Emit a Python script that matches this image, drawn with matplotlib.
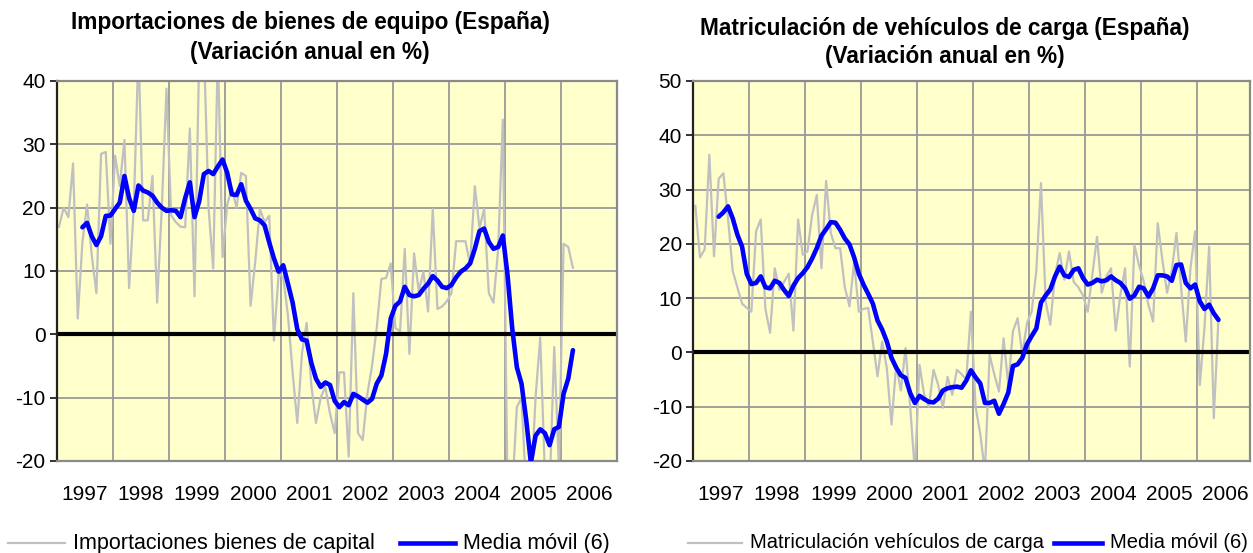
import numpy as np
import matplotlib
matplotlib.use("Agg")
import matplotlib.pyplot as plt
from matplotlib.lines import Line2D

plt.rcParams['font.family'] = ['Liberation Sans', 'DejaVu Sans']
plt.rcParams['axes.unicode_minus'] = False

# ---------------- data ----------------
years = ['1997', '1998', '1999', '2000', '2001', '2002', '2003', '2004', '2005', '2006']

# Left: Importaciones bienes de capital (monthly, Jan-1997 .. Mar-2006)
imp_grey = [17, 20, 18.5, 27, 2.5, 14.5, 20.5, 12.5, 6.5, 28.5, 28.8, 14.3,
            28.2, 23.4, 30.7, 7.3, 20, 45, 18, 18, 25, 5, 20, 38.8,
            18.8, 17.7, 17, 16.9, 32.5, 6, 44, 46, 20, 10.4, 45, 12.2,
            20.5, 23, 20, 25.5, 25, 4.5, 11.5, 19.8, 17.7, 18.7, -1, 9.5,
            9, 3, -6, -14, -3, 1.8, -8, -14, -10, -8.3, -12.5, -15.6,
            -6, -6, -19.3, 6.5, -15.6, -16.7, -9.4, -5, 1, 8.75, 8.9, 11.2,
            1, 0.5, 13.5, -3.1, 12.8, 6.8, 9.9, 3.6, 19.8, 4, 4.4, 5.2,
            6.5, 14.7, 14.7, 14.7, 11, 23.4, 16.8, 19.8, 6.5, 5, 13.5, 33.9,
            -25, -25, -11.5, -10, -25, -25, -10, -0.5, -22, -25, -2, -21,
            14.3, 13.8, 10.5]
# Media movil (6) starts at the 6th month
imp_ma = [16.9, 17.6, 15.5, 14.1, 15.5, 18.7, 18.75,
          19.8, 20.8, 25, 21.5, 19.5, 23.5, 22.7, 22.4, 21.9, 20.8, 20, 19.5,
          19.6, 19.5, 18.5, 21.5, 24, 18.5, 21, 25.3, 25.8, 25.3, 26.5, 27.6,
          25.5, 22.1, 22, 23.7, 21.1, 19.8, 18.3, 18, 17.2, 14.5, 12, 9.9,
          10.9, 8, 5, 0.8, -0.8, -1, -4.5, -7, -8.3, -7.6, -8, -10.5,
          -11.5, -10.7, -11.2, -9.4, -9.8, -10.3, -10.8, -10.2, -7.8, -6.5, -3.1, 2.5,
          4.5, 5.2, 7.5, 6.2, 6, 6.2, 7.2, 8, 9.2, 8.5, 7.5, 7.3,
          7.8, 9, 9.9, 10.4, 11.2, 13.5, 16.3, 16.7, 14.6, 13.5, 13.8, 15.6,
          9.4, 1, -5.2, -7.8, -13.5, -20.3, -16, -15, -15.6, -17.5, -15, -14.6,
          -9.4, -7, -2.5]

# Right: Matriculacion vehiculos de carga (monthly, Jan-1997 .. May-2006)
mat_grey = [27, 17.5, 19, 36.4, 17.7, 32, 33, 24.7, 15, 12, 9, 8.2,
            7.5, 22.3, 24.5, 8, 3.6, 15.5, 11.5, 13, 14.5, 4, 24.5, 18,
            18.6, 25.3, 29, 15.5, 31.6, 22, 19.2, 19.2, 12, 8.5, 16.7, 7.5,
            8, 8.2, 2, -4.4, 2, -2.9, -13.3, -2.3, -7, 0.8, -10, -22,
            -2.3, -7.8, -10, -3.2, -6, -10.2, -4.5, -7.8, -3.2, -4, -5, 7.5,
            -10, -15, -22, -0.4, -4, -7.2, 2.6, -6, 3.9, 6.3, -0.4, 5.4,
            7.5, 15, 31.2, 9.4, 5.1, 14.3, 18.3, 13.4, 18.6, 13, 12, 10.5,
            7.5, 14.3, 21.3, 11, 14, 15.5, 4, 10.6, 15.5, -2.6, 19.8, 16,
            13.1, 8.8, 5.7, 23.8, 17, 11, 15, 22, 12, 2, 15.5, 22.3,
            -6, 4.5, 19.5, -12.1, 6.3]
mat_ma = [25, 25.8, 26.9, 24.7, 21.7, 19.5, 14.5,
          12.6, 12.8, 14, 12, 11.8, 13.2, 12.8, 11.5, 10.4, 12.3, 13.7, 14.6,
          15.7, 17.3, 19.2, 21.5, 22.7, 24, 23.9, 22.6, 21, 19.9, 17.5, 14.5,
          12.5, 10.8, 9, 5.9, 4.2, 2, -1, -2.8, -4.2, -4.7, -7.5, -9.3,
          -8, -8.6, -9.1, -9.2, -8.5, -7, -6.6, -6.4, -6.3, -6.5, -5.2, -3.3,
          -4.6, -5.7, -9.3, -9.3, -8.9, -11.3, -9.5, -7.4, -2.5, -2.2, -1, 1.5,
          3, 4.4, 9.2, 10.5, 11.6, 14, 15.8, 14.2, 13.9, 15.2, 15.5, 13.7,
          12.5, 12.8, 13.4, 13.1, 13.3, 14, 13.3, 12.8, 11.8, 9.9, 10.5, 12.1,
          11.8, 10.3, 11.8, 14.2, 14.2, 14, 13.2, 16.1, 16.2, 12.8, 11.8, 12.5,
          9.4, 8, 8.8, 7.2, 6]

MA_WINDOW = 6
legend_left = ['Importaciones bienes de capital', 'Media móvil (6)']
legend_right = ['Matriculación vehículos de carga', 'Media móvil (6)']

# ---------------- style ----------------
BG = '#FFFFCC'
GRID = '#9a9a9a'
GREY = '#C0C0C0'
BLUE = '#0000FF'
W, H = 1253, 553

fig = plt.figure(figsize=(W / 100, H / 100), dpi=100)


def px_axes(x0, x1, y0, y1):
    return fig.add_axes([x0 / W, 1 - y1 / H, (x1 - x0) / W, (y1 - y0) / H])


def draw(ax, grey, ma, ylim, xmax):
    n = len(grey)
    x = (np.arange(n) + 0.5) / 12.0
    xm = x[MA_WINDOW - 1:MA_WINDOW - 1 + len(ma)]
    ax.set_facecolor(BG)
    ax.set_xlim(0, xmax)
    ax.set_ylim(*ylim)
    ax.set_xticks(np.arange(0, int(np.floor(xmax)) + 1))
    ax.set_xticks(np.arange(len(years)) + 0.5, minor=True)
    ax.set_xticklabels([])
    ax.set_xticklabels(years, minor=True)
    ax.tick_params(axis='x', which='both', length=0)
    ax.tick_params(axis='x', which='minor', pad=17, labelsize=15)
    ax.set_yticks(np.arange(ylim[0], ylim[1] + 1, 10))
    ax.tick_params(axis='y', which='major', length=5, width=1.3, direction='out',
                   color='#222222', pad=3, labelsize=15)
    ax.grid(True, which='major', color=GRID, linewidth=1.3, zorder=0)
    ax.set_axisbelow(True)
    lg, = ax.plot(x, grey, color=GREY, linewidth=1.6, zorder=2)
    ax.axhline(0, color='black', linewidth=3.0, zorder=2.5)
    lb, = ax.plot(xm, ma, color=BLUE, linewidth=3.3, zorder=3,
                  solid_capstyle='round', solid_joinstyle='round')
    for s in ['top', 'right', 'bottom']:
        ax.spines[s].set_color('#8a8a8a')
        ax.spines[s].set_linewidth(1.6)
    ax.spines['left'].set_color('#222222')
    ax.spines['left'].set_linewidth(1.6)
    return lg, lb


axL = px_axes(56.7, 617.3, 81, 461)
lg1, lb1 = draw(axL, imp_grey, imp_ma, (-20, 40), 10)
axR = px_axes(693, 1249.5, 81, 461)
lg2, lb2 = draw(axR, mat_grey, mat_ma, (-20, 50), (1249.5 - 693) / 56.05)

# titles
TS = 16.3
fig.text(310 / W, 1 - 22 / H, 'Importaciones de bienes de equipo (España)',
         ha='center', va='center', fontsize=TS, fontweight='bold')
fig.text(310 / W, 1 - 52 / H, '(Variación anual en %)',
         ha='center', va='center', fontsize=TS, fontweight='bold')
fig.text(945 / W, 1 - 28 / H, 'Matriculación de vehículos de carga (España)',
         ha='center', va='center', fontsize=TS, fontweight='bold')
fig.text(945 / W, 1 - 57 / H, '(Variación anual en %)',
         ha='center', va='center', fontsize=TS, fontweight='bold')


def legend_item(x0, x1, y, color, lw, label, size):
    fig.add_artist(Line2D([x0 / W, x1 / W], [1 - y / H, 1 - y / H],
                          transform=fig.transFigure, color=color, linewidth=lw))
    fig.text((x1 + 8) / W, 1 - y / H, label, ha='left', va='center',
             fontsize=size)


LY = 543
legend_item(8, 65, LY, GREY, 1.6, legend_left[0], 15.5)
legend_item(400, 455, LY, BLUE, 3.3, legend_left[1], 15.5)
legend_item(688, 742, LY, GREY, 1.6, legend_right[0], 14.5)
legend_item(1054, 1102, LY, BLUE, 3.3, legend_right[1], 14.5)

fig.savefig('out.png', dpi=100, facecolor='white')
